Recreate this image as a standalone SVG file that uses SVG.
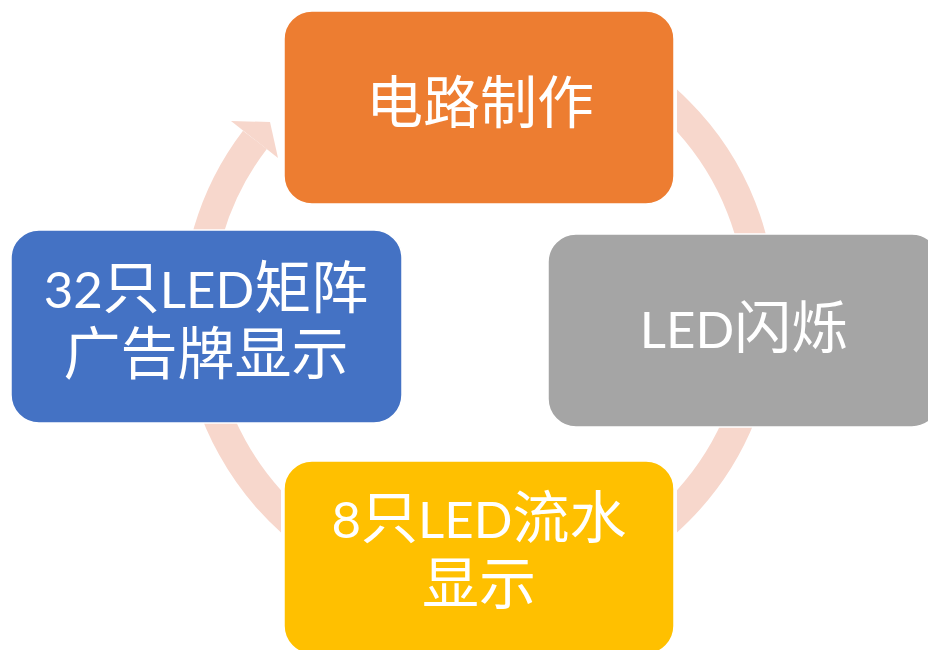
<svg xmlns="http://www.w3.org/2000/svg" width="928" height="650" viewBox="0 0 928 650">
  <style>
    .ring { fill: none; stroke: #F7D7CC; stroke-width: 30; stroke-linecap: butt; }
    .box { stroke: #FFFFFF; stroke-width: 1.5; }
    .lbl { font-family: Lato, "Noto Sans CJK SC", sans-serif; font-size: 57px; fill: #FFFFFF; text-anchor: middle; }
    .lat { font-size: 51px; }
  </style>
  <defs>
    <clipPath id="clipRight"><rect x="677" y="0" width="251" height="650"/></clipPath>
    <clipPath id="clipLeft"><rect x="0" y="0" width="281" height="650"/></clipPath>
  </defs>
  <rect width="928" height="650" fill="#FFFFFF"/>
  <g id="connectors">
    <circle class="ring" cx="479" cy="311" r="282" clip-path="url(#clipRight)"/>
    <path class="ring" d="M 297.7 527 A 282 282 0 0 1 254.9 139.8" clip-path="url(#clipLeft)"/>
    <polygon points="231,121 270,122 278,158" fill="#F7D7CC"/>
  </g>
  <g id="node-top">
    <rect class="box" x="284" y="11" width="390" height="193" rx="28" fill="#ED7D31"/>
    <text class="lbl" x="480" y="123">电路制作</text>
  </g>
  <g id="node-right">
    <rect class="box" x="548" y="234" width="392" height="193" rx="28" fill="#A5A5A5"/>
    <text class="lbl" x="744" y="348"><tspan class="lat">LED</tspan>闪烁</text>
  </g>
  <g id="node-bottom">
    <rect class="box" x="284" y="461" width="390" height="193" rx="28" fill="#FFC000"/>
    <text class="lbl" x="479" y="538"><tspan class="lat">8</tspan>只<tspan class="lat">LED</tspan>流水</text>
    <text class="lbl" x="479" y="604">显示</text>
  </g>
  <g id="node-left">
    <rect class="box" x="11" y="230" width="391" height="193" rx="28" fill="#4472C4"/>
    <text class="lbl" x="206" y="308"><tspan class="lat">32</tspan>只<tspan class="lat">LED</tspan>矩阵</text>
    <text class="lbl" x="206" y="374">广告牌显示</text>
  </g>
</svg>
